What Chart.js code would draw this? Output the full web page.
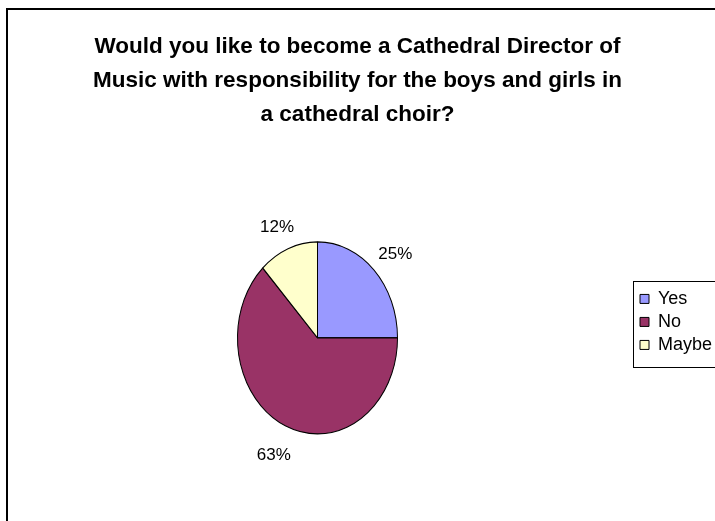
<!DOCTYPE html>
<html>
<head>
<meta charset="utf-8">
<title>Cathedral Director of Music survey</title>
<script src="https://cdn.jsdelivr.net/npm/chart.js@4/dist/chart.umd.min.js"></script>
<style>
  html, body { margin: 0; padding: 0; background: #ffffff; overflow: hidden; }
  #wrap { width: 715px; height: 521px; position: relative; }
</style>
</head>
<body>
<div id="wrap"><canvas id="chart" width="715" height="521"></canvas></div>
<script>
// Survey answers and their shares (percent)
const categories = ['Yes', 'No', 'Maybe'];
const percentages = [25, 63, 12];
const sliceColors = ['#9999FF', '#993366', '#FFFFCC'];
const titleLines = [
  'Would you like to become a Cathedral Director of',
  'Music with responsibility for the boys and girls in',
  'a cathedral choir?'
];

const FONT = "'Liberation Sans', Arial, Helvetica, sans-serif";
Chart.defaults.font.family = FONT;
Chart.defaults.color = '#000000';

// Vertical stretch of the pie (drawn as an upright ellipse)
const PIE_STRETCH_Y = 1.2;

// White page with a frame along the top and left edges
const framePlugin = {
  id: 'frame',
  beforeDraw(chart) {
    const ctx = chart.ctx;
    ctx.save();
    ctx.fillStyle = '#ffffff';
    ctx.fillRect(0, 0, chart.width, chart.height);
    ctx.strokeStyle = '#000000';
    ctx.lineWidth = 2;
    ctx.strokeRect(7, 9, chart.width + 20, chart.height + 20);
    ctx.restore();
  }
};

// Stretch the pie vertically around its centre
const ellipsePlugin = {
  id: 'ellipse',
  beforeDatasetsDraw(chart) {
    const arc = chart.getDatasetMeta(0).data[0];
    if (!arc) return;
    const ctx = chart.ctx;
    ctx.save();
    ctx.translate(arc.x, arc.y);
    ctx.scale(1, PIE_STRETCH_Y);
    ctx.translate(-arc.x, -arc.y);
  },
  afterDatasetsDraw(chart) {
    chart.ctx.restore();
  }
};

// Percentage labels placed outside each slice, at the slice's middle angle
const percentLabelPlugin = {
  id: 'percentLabels',
  afterDatasetsDraw(chart) {
    const meta = chart.getDatasetMeta(0);
    const values = chart.data.datasets[0].data;
    const ctx = chart.ctx;
    ctx.save();
    ctx.font = '17px ' + FONT;
    ctx.fillStyle = '#000000';
    ctx.textAlign = 'center';
    ctx.textBaseline = 'middle';
    meta.data.forEach((arc, i) => {
      const mid = (arc.startAngle + arc.endAngle) / 2;
      const r = arc.outerRadius;
      const x = arc.x + Math.cos(mid) * r * 1.375;
      const y = arc.y + Math.sin(mid) * r * PIE_STRETCH_Y * 1.29 + 4;
      ctx.fillText(values[i] + '%', x, y);
    });
    ctx.restore();
  }
};

// Box drawn around the legend entries
const legendBoxPlugin = {
  id: 'legendBox',
  afterDraw(chart) {
    const lg = chart.legend;
    if (!lg) return;
    const ctx = chart.ctx;
    ctx.save();
    ctx.strokeStyle = '#000000';
    ctx.lineWidth = 1;
    ctx.strokeRect(Math.round(lg.left) - 1.5, Math.round(lg.top) - 3.5, chart.width, 86);
    ctx.restore();
  }
};

new Chart(document.getElementById('chart'), {
  type: 'pie',
  data: {
    labels: categories,
    datasets: [{
      data: percentages,
      backgroundColor: sliceColors,
      borderColor: '#000000',
      borderWidth: 1,
      radius: 80,
      clip: false,
      hoverOffset: 0
    }]
  },
  options: {
    responsive: false,
    animation: false,
    events: [],
    layout: { padding: { left: 0, right: 0, top: 0, bottom: 130 } },
    plugins: {
      title: {
        display: true,
        text: titleLines,
        color: '#000000',
        font: { family: FONT, size: 22.5, weight: 'bold', lineHeight: 1.51 },
        padding: { top: 30, bottom: 153 }
      },
      legend: {
        display: true,
        position: 'right',
        align: 'start',
        fullSize: false,
        maxWidth: 80,
        labels: {
          color: '#000000',
          font: { family: FONT, size: 18 },
          boxWidth: 9,
          boxHeight: 9,
          padding: 5
        }
      },
      tooltip: { enabled: false }
    }
  },
  plugins: [framePlugin, ellipsePlugin, percentLabelPlugin, legendBoxPlugin]
});
</script>
</body>
</html>
